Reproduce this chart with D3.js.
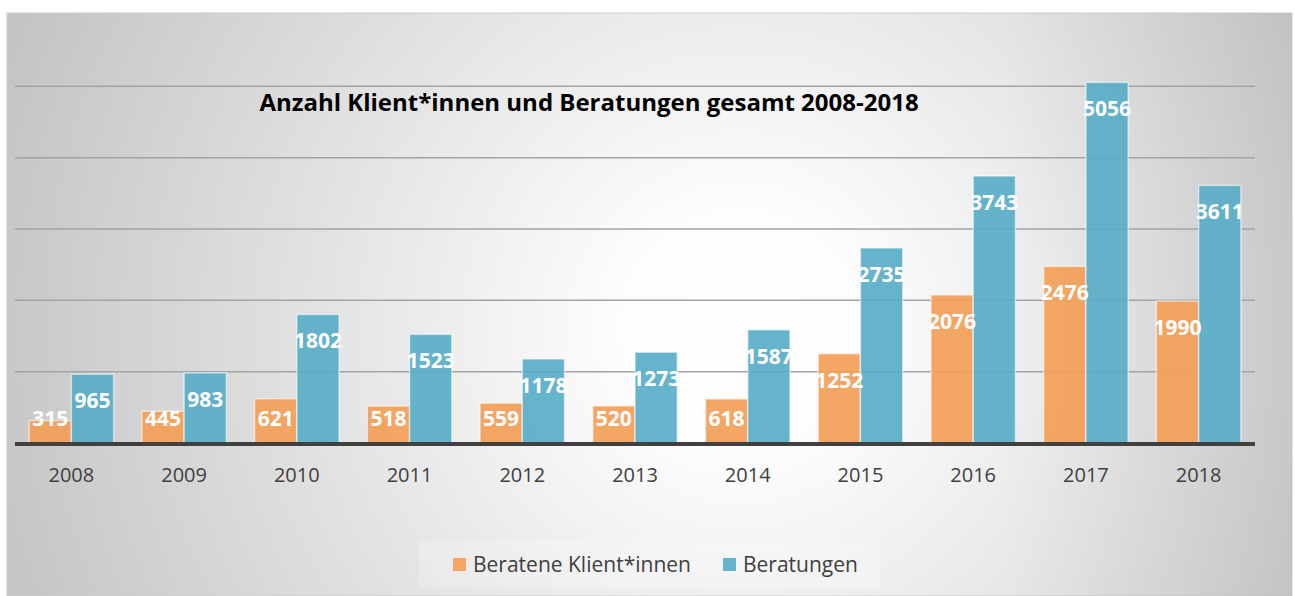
<!DOCTYPE html>
<html>
<head>
<meta charset="utf-8">
<script src="https://cdn.jsdelivr.net/npm/d3@7"></script>
<style>
  body { margin:0; background:#fff; }
  text { font-family: "Open Sans", sans-serif; }
</style>
</head>
<body>
<div id="chart"></div>
<script>
// ---- data
var years = ["2008","2009","2010","2011","2012","2013","2014","2015","2016","2017","2018"];
var klienten = [315,445,621,518,559,520,618,1252,2076,2476,1990];
var beratungen = [965,983,1802,1523,1178,1273,1587,2735,3743,5056,3611];
var seriesNames = ["Beratene Klient*innen","Beratungen"];
var seriesColors = ["#f39e58","#58aec7"];
var gridTicks = [1000,2000,3000,4000,5000];

var W = 1295, H = 596;

var svg = d3.select("#chart")
    .append("svg")
    .attr("width", W)
    .attr("height", H);

var defs = svg.append("defs");
var rg = defs.append("radialGradient")
    .attr("id","bg")
    .attr("gradientUnits","userSpaceOnUse")
    .attr("cx",740).attr("cy",330).attr("r",780);
rg.append("stop").attr("offset","0").attr("stop-color","#ffffff");
rg.append("stop").attr("offset","0.15").attr("stop-color","#fdfdfd");
rg.append("stop").attr("offset","1").attr("stop-color","#c4c4c4");

var lg = defs.append("linearGradient")
    .attr("id","rightShade")
    .attr("x1","0").attr("x2","1").attr("y1","0").attr("y2","0");
lg.append("stop").attr("offset","0").attr("stop-color","#000").attr("stop-opacity",0);
lg.append("stop").attr("offset","1").attr("stop-color","#000").attr("stop-opacity",0.07);

// chart background
svg.append("rect")
    .attr("x",7).attr("y",13)
    .attr("width",1285).attr("height",583)
    .attr("fill","url(#bg)")
    .attr("stroke","#cccccc")
    .attr("stroke-width",1);

svg.append("rect")
    .attr("x",1000).attr("y",13)
    .attr("width",292).attr("height",583)
    .attr("fill","url(#rightShade)");

// scales
var x0 = d3.scaleBand()
    .domain(years)
    .range([15,1255])
    .paddingInner(0.25)
    .paddingOuter(0.125);

var x1 = d3.scaleBand()
    .domain([0,1])
    .range([0, x0.bandwidth()]);

var y = d3.scaleLinear()
    .domain([0,6000])
    .range([443,15]);

// grid lines
svg.append("g")
    .selectAll("line")
    .data(gridTicks)
    .enter()
    .append("line")
    .attr("x1",15)
    .attr("x2",1255)
    .attr("y1",function(d){ return y(d); })
    .attr("y2",function(d){ return y(d); })
    .attr("stroke","#a3a3a3")
    .attr("stroke-width",1.5);

// title
svg.append("text")
    .attr("x",589)
    .attr("y",111)
    .attr("text-anchor","middle")
    .attr("font-size",24)
    .attr("font-weight","bold")
    .attr("fill","#000")
    .text("Anzahl Klient*innen und Beratungen gesamt 2008-2018");

// bars
var rows = years.map(function(yr,i){ return { year: yr, values: [klienten[i], beratungen[i]] }; });

var groups = svg.append("g")
    .selectAll("g")
    .data(rows)
    .enter()
    .append("g")
    .attr("transform",function(d){ return "translate(" + x0(d.year) + ",0)"; });

groups.selectAll("rect")
    .data(function(d){ return d.values.map(function(v,k){ return {k:k, v:v}; }); })
    .enter()
    .append("rect")
    .attr("x",function(d){ return x1(d.k); })
    .attr("y",function(d){ return y(d.v); })
    .attr("width",x1.bandwidth())
    .attr("height",function(d){ return y(0) - y(d.v); })
    .attr("fill",function(d){ return seriesColors[d.k]; })
    .attr("fill-opacity",0.92)
    .attr("stroke","#ffffff")
    .attr("stroke-opacity",0.55)
    .attr("stroke-width",1.5);

groups.selectAll("text")
    .data(function(d){ return d.values.map(function(v,k){ return {k:k, v:v}; }); })
    .enter()
    .append("text")
    .attr("x",function(d){ return x1(d.k) + x1.bandwidth()/2; })
    .attr("y",function(d){ return Math.min(y(d.v) + 27, y(0) - 24) + 7; })
    .attr("text-anchor","middle")
    .attr("font-size",21)
    .attr("font-weight","bold")
    .attr("fill","#ffffff")
    .text(function(d){ return d.v; });

// baseline
svg.append("line")
    .attr("x1",15).attr("x2",1255)
    .attr("y1",y(0)+1).attr("y2",y(0)+1)
    .attr("stroke","#404040")
    .attr("stroke-width",4);

// x axis labels
svg.append("g")
    .selectAll("text")
    .data(years)
    .enter()
    .append("text")
    .attr("x",function(d){ return x0(d) + x0.bandwidth()/2; })
    .attr("y",482)
    .attr("text-anchor","middle")
    .attr("font-size",20)
    .attr("fill","#404040")
    .text(function(d){ return d; });

// legend
svg.append("rect")
    .attr("x",419).attr("y",541)
    .attr("width",461).attr("height",46)
    .attr("fill","#ffffff")
    .attr("fill-opacity",0.2);

var legendX = [453,723];
seriesNames.forEach(function(name,i){
    var lgItem = svg.append("g")
        .attr("transform","translate(" + legendX[i] + ",558)");
    lgItem.append("rect")
        .attr("x",0).attr("y",0)
        .attr("width",13).attr("height",13)
        .attr("fill",seriesColors[i])
        .attr("fill-opacity",0.92);
    lgItem.append("text")
        .attr("x",20)
        .attr("y",14)
        .attr("font-size",21)
        .attr("fill","#404040")
        .text(name);
});
</script>
</body>
</html>
